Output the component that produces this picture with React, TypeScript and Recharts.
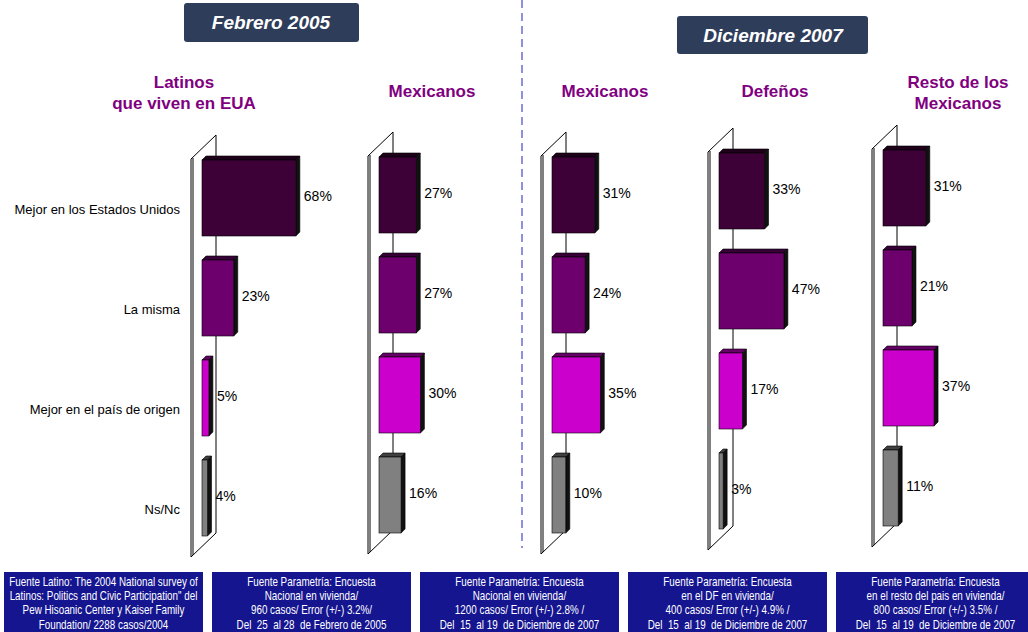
import React from "react";
import { BarChart, Bar, XAxis, YAxis, Cell, LabelList } from "recharts";

const categories = [
  "Mejor en los Estados Unidos",
  "La misma",
  "Mejor en el país de origen",
  "Ns/Nc",
];
const latinosEUA2005 = [68, 23, 5, 4];
const mexicanos2005 = [27, 27, 30, 16];
const mexicanos2007 = [31, 24, 35, 10];
const defenos2007 = [33, 47, 17, 3];
const restoMexicanos2007 = [31, 21, 37, 11];

const barColors = ["#3D0037", "#6E006E", "#CC00CC", "#808080"];
const sideColors = ["#1E001B", "#370037", "#660066", "#404040"];

const footnotes = [
  [
    "Fuente Latino: The 2004 National survey of",
    "Latinos: Politics and Civic Participation\" del",
    "Pew Hisoanic Center y Kaiser Family",
    "Foundation/ 2288 casos/2004",
  ],
  [
    "Fuente Parametría: Encuesta",
    "Nacional en vivienda/",
    "960 casos/ Error (+/-) 3.2%/",
    "Del  25  al 28  de Febrero de 2005",
  ],
  [
    "Fuente Parametría: Encuesta",
    "Nacional en vivienda/",
    "1200 casos/ Error (+/-) 2.8% /",
    "Del  15  al 19  de Diciembre de 2007",
  ],
  [
    "Fuente Parametría: Encuesta",
    "en el DF en vivienda/",
    "400 casos/ Error (+/-) 4.9% /",
    "Del  15  al 19  de Diciembre de 2007",
  ],
  [
    "Fuente Parametría: Encuesta",
    "en el resto del pais en vivienda/",
    "800 casos/ Error (+/-) 3.5% /",
    "Del  15  al 19  de Diciembre de 2007",
  ],
];

const FONT = "'Liberation Sans', Arial, sans-serif";
const DEPTH = 4;
const PLOT_H = 400;
const PLOT_W = 138;

const panels = [
  { title: ["Latinos", "que viven en EUA"], cx: 184, values: latinosEUA2005, left: 202, top: 148, axis: true },
  { title: ["Mexicanos"], cx: 432, values: mexicanos2005, left: 379, top: 145 },
  { title: ["Mexicanos"], cx: 605, values: mexicanos2007, left: 552, top: 145 },
  { title: ["Defeños"], cx: 775, values: defenos2007, left: 719, top: 141 },
  { title: ["Resto de los", "Mexicanos"], cx: 958, values: restoMexicanos2007, left: 883, top: 138 },
];

const Bar3D = (props: any) => {
  const { x, y, width, height, fill, index } = props;
  const d = DEPTH;
  const side = sideColors[index % sideColors.length];
  return (
    <g stroke="#000" strokeWidth={0.6}>
      <polygon
        points={`${x},${y} ${x + width},${y} ${x + width + d},${y - d} ${x + d},${y - d}`}
        fill={side}
      />
      <polygon
        points={`${x + width},${y} ${x + width + d},${y - d} ${x + width + d},${y + height - d} ${x + width},${y + height}`}
        fill="#111"
      />
      <rect x={x} y={y} width={width} height={height} fill={fill} />
    </g>
  );
};

const ValueLabel = (props: any) => {
  const { x, y, width, height, value } = props;
  return (
    <text
      x={x + width + DEPTH + 4}
      y={y + height / 2 + 3}
      fontSize={14}
      fontFamily={FONT}
      fill="#000"
    >
      {value}%
    </text>
  );
};

const CategoryTick = (props: any) => {
  const { x, y, payload } = props;
  return (
    <text x={x} y={y + 16} textAnchor="end" fontSize={13} fontFamily={FONT} fill="#000">
      {payload.value}
    </text>
  );
};

function Panel({ p }: { p: (typeof panels)[number] }) {
  const data = categories.map((cat, i) => ({ cat, value: p.values[i] }));
  const axisW = p.axis ? p.left : 0;
  const marginLeft = p.axis ? 0 : 40;
  const chartLeft = p.left - axisW - marginLeft;
  const width = axisW + marginLeft + PLOT_W + 60;
  return (
    <div style={{ position: "absolute", left: chartLeft, top: p.top - 20 }}>
      <BarChart
        width={width}
        height={PLOT_H + 40}
        data={data}
        layout="vertical"
        margin={{ top: 20, right: 60, bottom: 20, left: marginLeft }}
      >
        <XAxis type="number" domain={[0, 100]} hide />
        <YAxis
          type="category"
          dataKey="cat"
          hide={!p.axis}
          width={axisW}
          axisLine={false}
          tickLine={false}
          tickSize={0}
          tickMargin={22}
          tick={<CategoryTick />}
        />
        <Bar dataKey="value" barSize={76} shape={<Bar3D />} isAnimationActive={false}>
          {data.map((_, i) => (
            <Cell key={i} fill={barColors[i]} />
          ))}
          <LabelList dataKey="value" content={<ValueLabel />} />
        </Bar>
      </BarChart>
    </div>
  );
}

function Wall({ b, t }: { b: number; t: number }) {
  const fx = b - 11;
  const bx = b + 14;
  return (
    <g stroke="#000" strokeWidth={1} fill="none">
      <line x1={bx} y1={t - 13} x2={bx} y2={t + 385} />
      <polyline points={`${fx},${t + 11} ${bx},${t - 13}`} />
      <polyline points={`${fx},${t + 409} ${bx},${t + 385}`} />
      <line x1={fx} y1={t + 11} x2={fx} y2={t + 409} />
      <line x1={fx + 2} y1={t + 10} x2={fx + 2} y2={t + 407} />
    </g>
  );
}

export default function App() {
  return (
    <div style={{ position: "absolute", left: 0, top: 0, width: 1028, height: 632, background: "#fff", overflow: "hidden" }}>
      <svg width={1028} height={632} style={{ position: "absolute", left: 0, top: 0 }}>
        <line x1={522} y1={0} x2={522} y2={548} stroke="#2020C0" strokeWidth={1} strokeDasharray="8 5" />
        {panels.map((p, i) => (
          <Wall key={i} b={p.left} t={p.top} />
        ))}
        <rect x={184} y={3} width={175} height={39} rx={3} fill="#2E3D5A" />
        <text x={271} y={29} textAnchor="middle" fill="#fff" fontSize={19} fontWeight="bold" fontStyle="italic" fontFamily={FONT}>
          Febrero 2005
        </text>
        <rect x={677} y={16} width={191} height={38} rx={3} fill="#2E3D5A" />
        <text x={773} y={42} textAnchor="middle" fill="#fff" fontSize={19} fontWeight="bold" fontStyle="italic" fontFamily={FONT}>
          Diciembre 2007
        </text>
        {panels.map((p, i) =>
          p.title.map((line, j) => (
            <text
              key={`${i}-${j}`}
              x={p.cx}
              y={p.title.length === 1 ? 97 : 88 + j * 21}
              textAnchor="middle"
              fill="#800080"
              fontSize={17}
              fontWeight="bold"
              fontFamily={FONT}
            >
              {line}
            </text>
          ))
        )}
        {footnotes.map((lines, i) => {
          const x = 4 + i * 208;
          return (
            <g key={i}>
              <rect x={x} y={572} width={199} height={62} fill="#15158F" />
              <g transform={`translate(${x + 99.5},0) scale(0.82,1)`}>
                {lines.map((l, j) => (
                  <text
                    key={j}
                    x={0}
                    y={586 + j * 14.2}
                    textAnchor="middle"
                    fill="#fff"
                    fontSize={12}
                    fontFamily={FONT}
                    style={{ whiteSpace: "pre" }}
                  >
                    {l}
                  </text>
                ))}
              </g>
            </g>
          );
        })}
      </svg>
      {panels.map((p, i) => (
        <Panel key={i} p={p} />
      ))}
    </div>
  );
}
